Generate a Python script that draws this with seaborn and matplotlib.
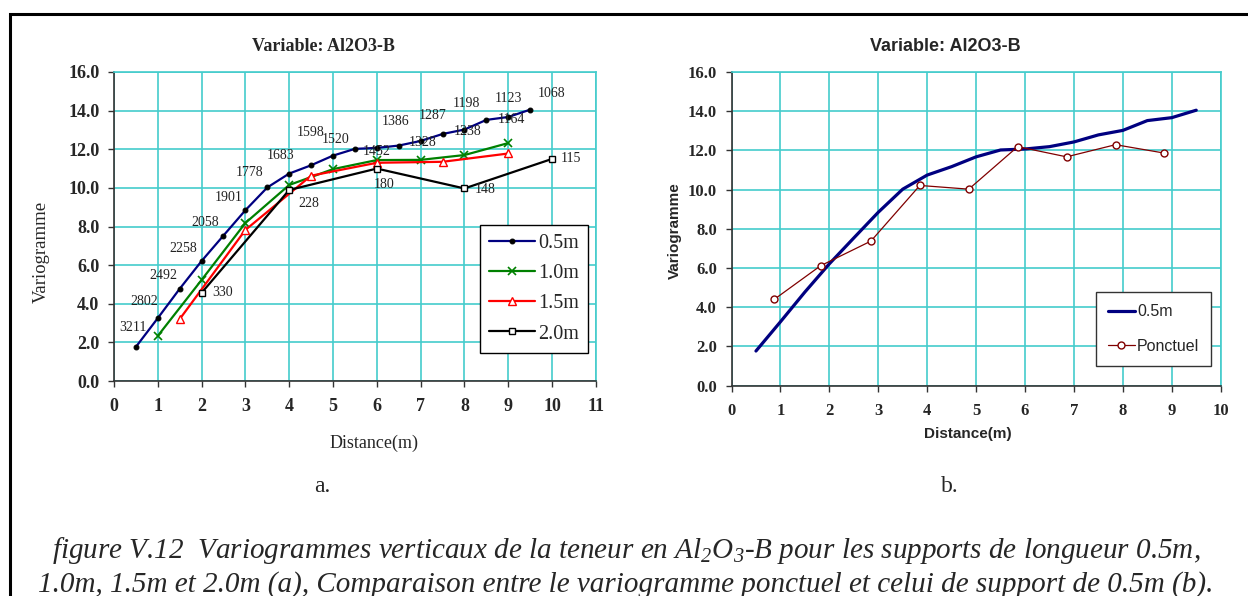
import matplotlib
matplotlib.use("Agg")
import matplotlib.pyplot as plt
import matplotlib.ticker as mticker
import seaborn as sns
import pandas as pd

# --- data ---
dist_05 = [0.5, 1.0, 1.5, 2.0, 2.5, 3.0, 3.5, 4.0, 4.5, 5.0,
           5.5, 6.0, 6.5, 7.0, 7.5, 8.0, 8.5, 9.0, 9.5]
gamma_05 = [1.76, 3.25, 4.77, 6.21, 7.53, 8.84, 10.02, 10.74, 11.17, 11.67,
            12.02, 12.07, 12.19, 12.43, 12.79, 13.02, 13.52, 13.67, 14.05]
pairs_05 = ["3211", "2802", "2492", "2258", "2058", "1901", "1778", "1683", "1598", "1520",
            "1452", "1386", "1328", "1287", "1238", "1198", "1164", "1123", "1068"]

dist_10 = [1, 2, 3, 4, 5, 6, 7, 8, 9]
gamma_10 = [2.33, 5.23, 8.18, 10.15, 10.97, 11.44, 11.45, 11.70, 12.32]

dist_15 = [1.5, 3.0, 4.5, 6.0, 7.5, 9.0]
gamma_15 = [3.20, 7.82, 10.63, 11.30, 11.35, 11.78]

dist_20 = [2, 4, 6, 8, 10]
gamma_20 = [4.56, 9.89, 11.00, 9.97, 11.50]
pairs_20 = ["330", "228", "180", "148", "115"]

dist_ponct = [0.87, 1.82, 2.85, 3.85, 4.85, 5.85, 6.85, 7.85, 8.85]
gamma_ponct = [4.39, 6.11, 7.37, 10.21, 10.02, 12.19, 11.67, 12.29, 11.86]

# label offsets (pixels) for the pair counts
off_05 = [(-3, 20), (-13, 17), (-16, 13), (-18, 13), (-18, 13), (-17, 13), (-18, 15),
          (-9, 18), (0, 33), (3, 16), (22, -3), (19, 26), (24, 3), (12, 25), (25, 2),
          (2, 26), (25, 0), (0, 18), (21, 16)]
off_20 = [(21, 0), (20, -14), (7, -16), (21, -1), (19, 0)]

SERIF = "Liberation Serif"
SANS = "Liberation Sans"
GRID = "#44cccc"

sns.set_theme(style="white")
plt.rcParams["font.family"] = [SERIF, "DejaVu Serif"]
plt.rcParams["mathtext.fontset"] = "custom"
plt.rcParams["mathtext.rm"] = "Liberation Serif:italic"
plt.rcParams["mathtext.it"] = "Liberation Serif:italic"

fig = plt.figure(figsize=(12.48, 5.96), dpi=100)
W, H = 1248, 596


def px_axes(l, t, r, b):
    return fig.add_axes([l / W, 1 - b / H, (r - l) / W, (b - t) / H])


axL = px_axes(113.9, 72, 595.9, 381)
axR = px_axes(731.5, 72, 1220.7, 385.5)


def style_axes(ax, xmax, tick_size):
    ax.set_xlim(0, xmax)
    ax.set_ylim(0, 16)
    ax.set_xticks(range(0, xmax + 1))
    ax.set_yticks(range(0, 17, 2))
    ax.yaxis.set_major_formatter(mticker.FormatStrFormatter("%.1f"))
    ax.grid(True, color=GRID, lw=1.2)
    ax.set_axisbelow(True)
    for s in ["top", "right"]:
        ax.spines[s].set_color(GRID)
        ax.spines[s].set_linewidth(1.2)
    for s in ["left", "bottom"]:
        ax.spines[s].set_color("#333333")
        ax.spines[s].set_linewidth(1.2)
    ax.tick_params(axis="both", direction="out", length=4.5, width=1, color="#333333",
                   labelsize=tick_size, left=True, bottom=True)
    ax.tick_params(axis="x", pad=8)
    ax.tick_params(axis="y", pad=6)
    for lab in ax.get_xticklabels() + ax.get_yticklabels():
        lab.set_fontweight("bold")
        lab.set_family(SERIF)
    ax.set_xlabel("")
    ax.set_ylabel("")


# --- left chart ---
sns.lineplot(x=dist_05, y=gamma_05, ax=axL, color="#000080", lw=1.6, label="0.5m",
             marker="o", markersize=3.5, markerfacecolor="black", markeredgecolor="black")
sns.lineplot(x=dist_10, y=gamma_10, ax=axL, color="#008000", lw=1.6, label="1.0m",
             marker="x", markersize=6, markeredgecolor="#008000", markeredgewidth=1.2)
sns.lineplot(x=dist_15, y=gamma_15, ax=axL, color="#ff0000", lw=1.6, label="1.5m",
             marker="^", markersize=6, markerfacecolor="white", markeredgecolor="#ff0000",
             markeredgewidth=1.0)
sns.lineplot(x=dist_20, y=gamma_20, ax=axL, color="black", lw=1.6, label="2.0m",
             marker="s", markersize=5, markerfacecolor="white", markeredgecolor="black",
             markeredgewidth=1.0)

for x, y, t, o in zip(dist_05, gamma_05, pairs_05, off_05):
    axL.annotate(t, (x, y), xytext=o, textcoords="offset pixels", ha="center", va="center",
                 fontsize=10, family=SERIF, color="#222222")
for x, y, t, o in zip(dist_20, gamma_20, pairs_20, off_20):
    axL.annotate(t, (x, y), xytext=o, textcoords="offset pixels", ha="center", va="center",
                 fontsize=10, family=SERIF, color="#222222")

style_axes(axL, 11, 13)
legL = axL.legend(loc="lower right", bbox_to_anchor=(0.984, 0.092), frameon=True,
                  fancybox=False, edgecolor="black", framealpha=1, prop={"family": SERIF, "size": 14.5},
                  handlelength=2.3, handletextpad=0.15, labelspacing=0.55, borderpad=0.45,
                  borderaxespad=0)
legL.get_frame().set_linewidth(1.0)

axL.text(0.434, 1.081, "Variable: Al2O3-B", transform=axL.transAxes, ha="center", va="center",
         fontsize=13, fontweight="bold", family=SERIF)
fig.text(374 / W, 1 - 443 / H, "Distance(m)", ha="center", va="center", fontsize=13, family=SERIF)
fig.text(41.5 / W, 1 - 252 / H, "Variogramme", ha="center", va="center", rotation=90,
         fontsize=13.5, family=SERIF)

# --- right chart ---
sns.lineplot(x=dist_05, y=gamma_05, ax=axR, color="#000080", lw=2.3, label="0.5m")
sns.lineplot(x=dist_ponct, y=gamma_ponct, ax=axR, color="#800000", lw=0.9, label="Ponctuel",
             marker="o", markersize=5, markerfacecolor="white", markeredgecolor="#800000",
             markeredgewidth=1.0)
style_axes(axR, 10, 12)
legR = axR.legend(loc="lower right", bbox_to_anchor=(0.981, 0.062), frameon=True,
                  fancybox=False, edgecolor="#333333", framealpha=1, prop={"family": SANS, "size": 11.5},
                  handlelength=1.7, handletextpad=0.15, labelspacing=1.25, borderpad=0.75,
                  borderaxespad=0)
legR.get_frame().set_linewidth(1.0)

axR.text(0.437, 1.08, "Variable: Al2O3-B", transform=axR.transAxes, ha="center", va="center",
         fontsize=13, fontweight="bold", family=SANS)
fig.text(967.6 / W, 1 - 434 / H, "Distance(m)", ha="center", va="center", fontsize=11,
         fontweight="bold", family=SANS)
fig.text(675 / W, 1 - 231 / H, "Variogramme", ha="center", va="center", rotation=90,
         fontsize=11, fontweight="bold", family=SANS)

# --- panel letters and caption ---
fig.text(322 / W, 1 - 491.7 / H, "a.", ha="center", va="baseline", fontsize=17, family=SERIF)
fig.text(950 / W, 1 - 491.7 / H, "b.", ha="center", va="baseline", fontsize=17, family=SERIF)
fig.text(626 / W, 1 - 558 / H,
         "figure V.12  Variogrammes verticaux de la teneur en Al$_2$O$_3$-B pour les supports de longueur 0.5m,",
         ha="center", va="baseline", fontsize=21, style="italic", family=SERIF)
fig.text(626 / W, 1 - 592 / H,
         "1.0m, 1.5m et 2.0m (a), Comparaison entre le variogramme ponctuel et celui de support de 0.5m (b).",
         ha="center", va="baseline", fontsize=21, style="italic", family=SERIF)

# outer frame (only top and left edges fall inside the picture)
fig.patches.append(plt.Rectangle((10 / W, -0.2), 1.2, 1.2 - 14 / H, transform=fig.transFigure,
                                 fill=False, lw=2.2, edgecolor="black", clip_on=False))

fig.savefig("out.png", dpi=100)
